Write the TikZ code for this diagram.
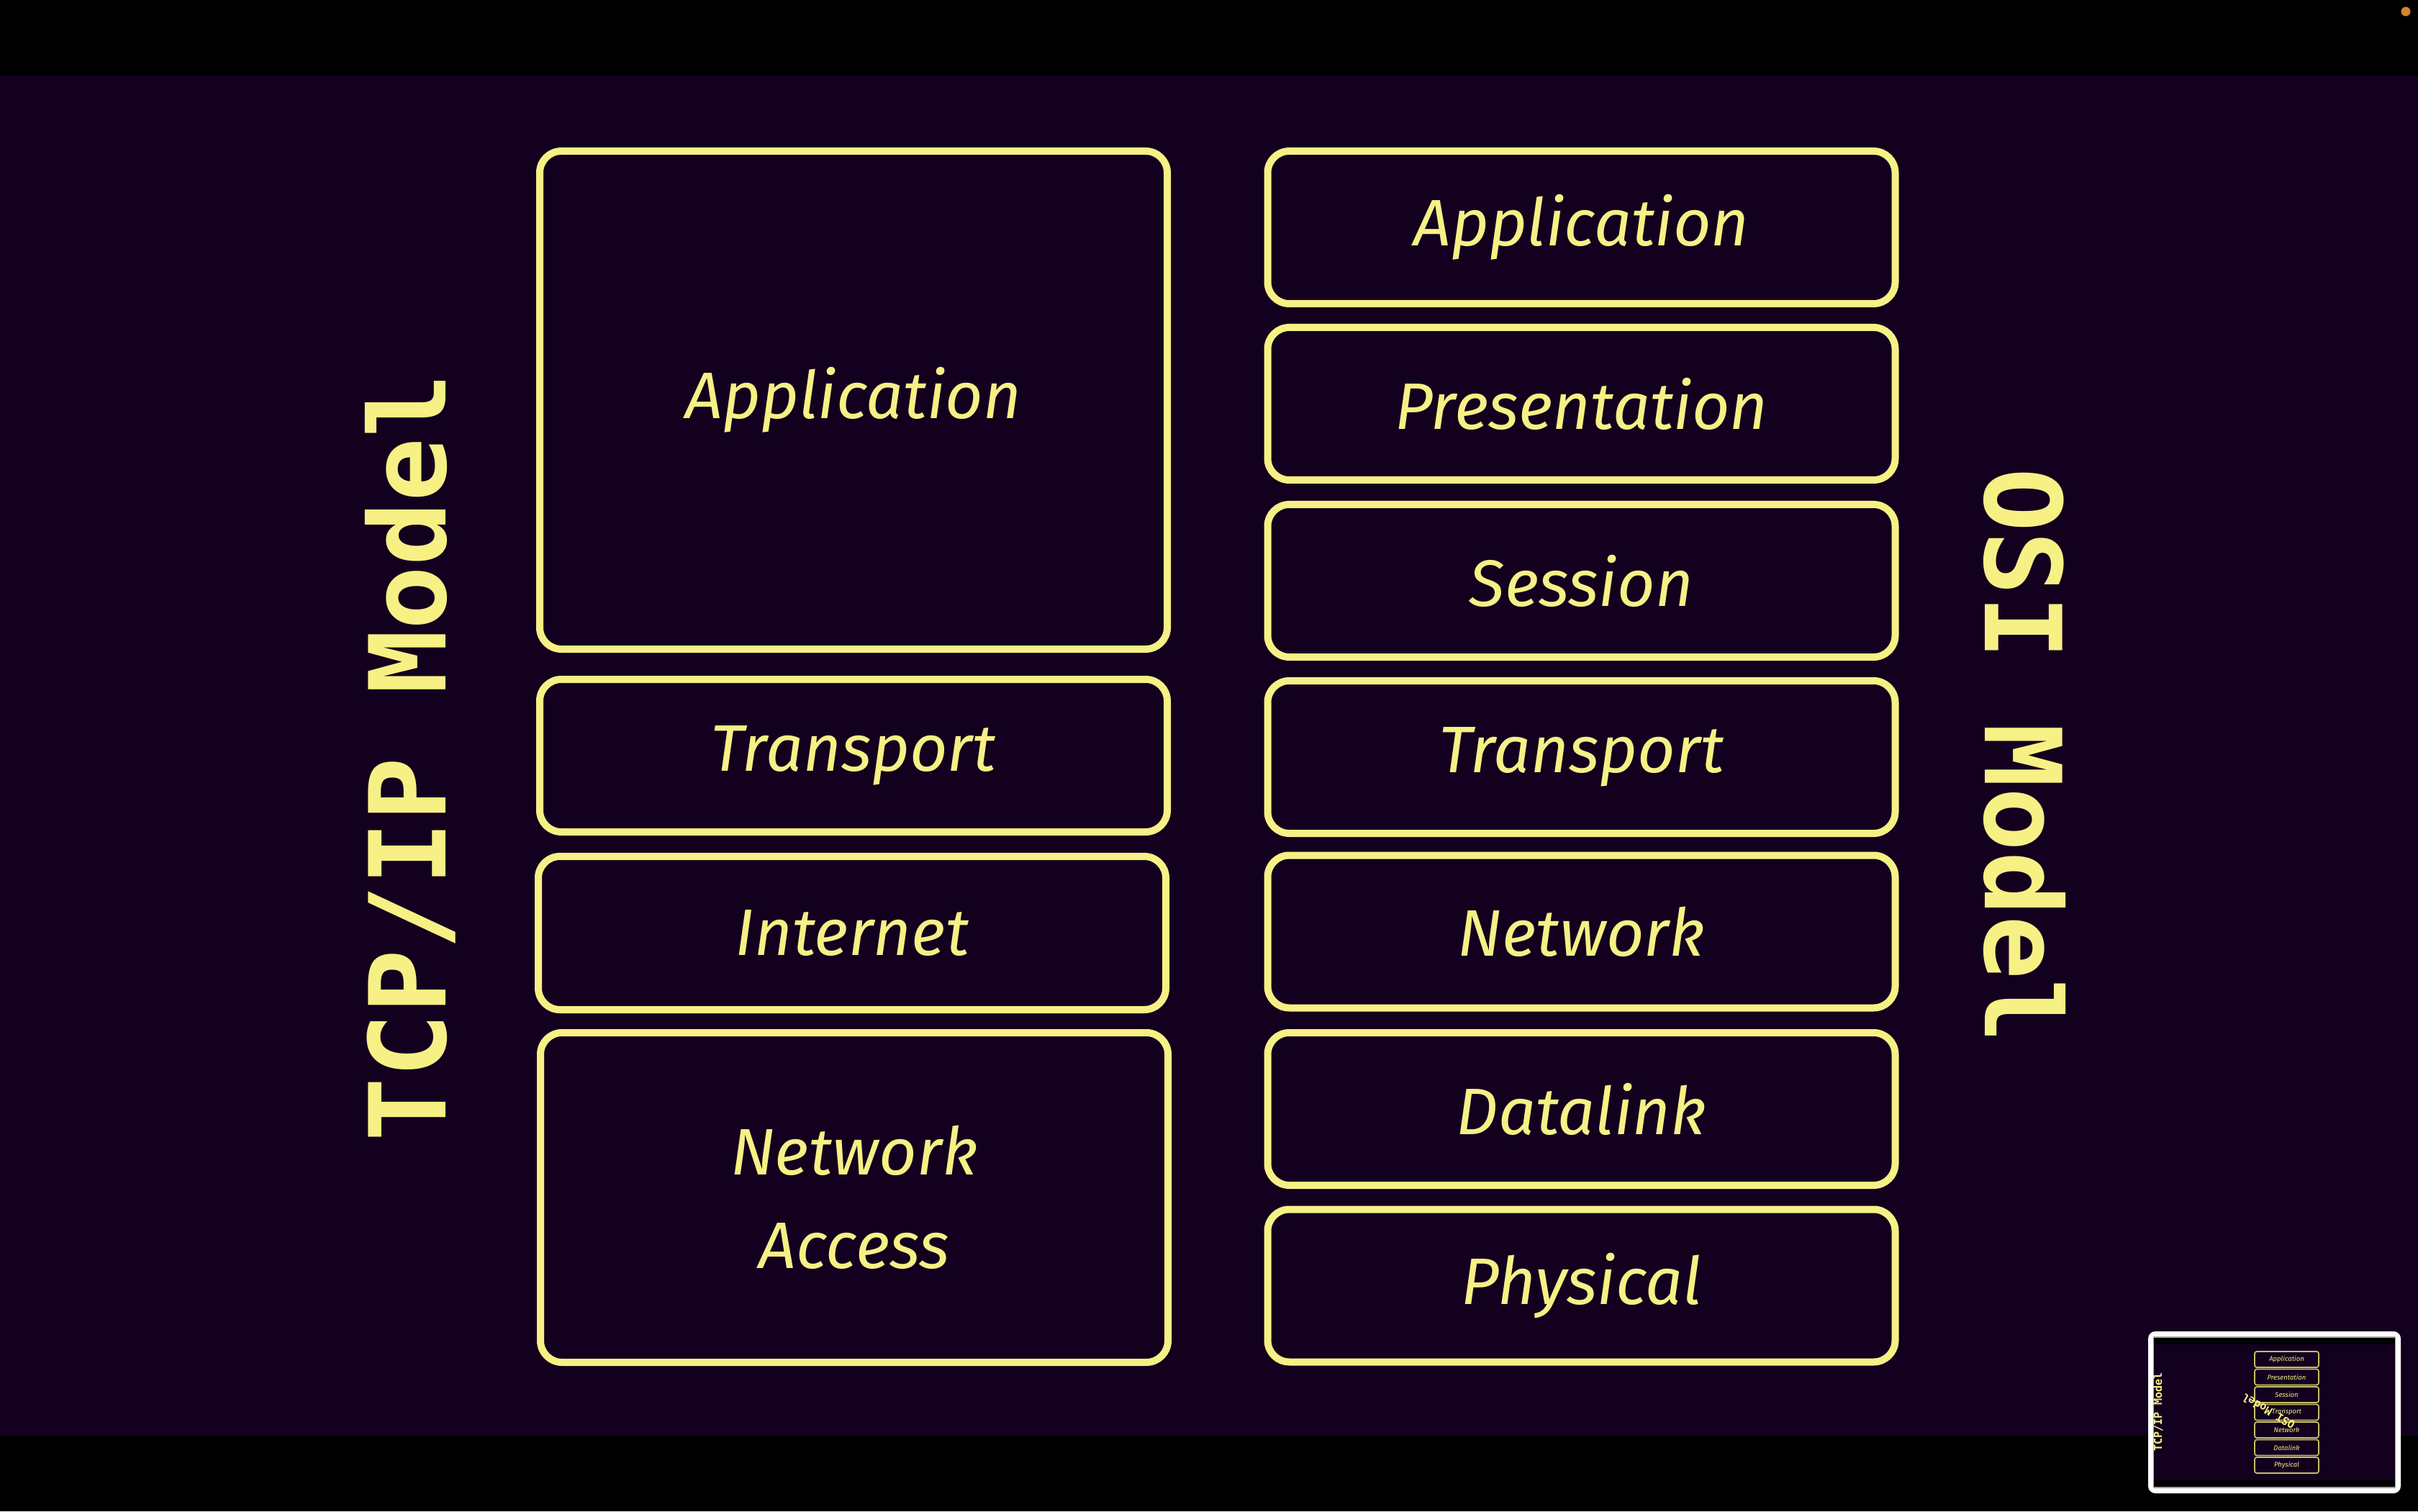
\documentclass[tikz,border=0pt]{standalone}
\usepackage{fontspec}
\setmainfont{Fira Sans}
\newfontfamily\titlefont{DejaVu Sans Mono}
\definecolor{bgpurple}{RGB}{19,0,31}
\definecolor{layeryellow}{RGB}{247,240,133}
\definecolor{thumbyellow}{RGB}{200,191,100}
\definecolor{dotorange}{RGB}{208,132,52}

\begin{document}
\begin{tikzpicture}[line join=round, line cap=round,
  layer/.style={draw=layeryellow, line width=0.1cm, rounded corners=0.3cm,
    text=layeryellow, font=\itshape\fontsize{26}{37}\selectfont,
    minimum width=8.72cm, align=center, inner sep=0pt},
  title/.style={text=layeryellow, font=\titlefont\bfseries\fontsize{42}{50}\selectfont, inner sep=0pt},
  minilayer/.style={draw=thumbyellow, line width=0.5pt, rounded corners=0.03cm,
    text=layeryellow, font=\itshape\fontsize{2.7}{3}\selectfont,
    minimum width=0.89cm, minimum height=0.22cm, inner sep=0pt},
  minititle/.style={text=layeryellow, font=\titlefont\bfseries\fontsize{4.3}{5}\selectfont, inner sep=0pt}]
  \useasboundingbox (0,0) rectangle (33.6,21);

  \fill[black] (0,0) rectangle (33.6,21);
  \fill[bgpurple] (0,1.05) rectangle (33.6,19.95);
  \fill[dotorange] (33.43,20.84) circle (0.065);

  \node[title, rotate=90] (tcpTitle) at (5.70,10.47) {TCP/IP Model};
  \node[title, rotate=-90] (osiTitle) at (28.13,10.50) {OSI Model};

  \node[layer, minimum height=6.92cm] (tcpApp) at (11.86,15.44) {Application};
  \node[layer, minimum height=2.12cm] (tcpTrans) at (11.86,10.50) {Transport};
  \node[layer, minimum height=2.13cm] (tcpInt) at (11.84,8.035) {Internet};
  \node[layer, minimum height=4.58cm] (tcpNet) at (11.87,4.36) {Network\\Access};

  \node[layer, minimum height=2.12cm] (osiApp) at (21.975,17.84) {Application};
  \node[layer, minimum height=2.12cm] (osiPres) at (21.975,15.39) {Presentation};
  \node[layer, minimum height=2.12cm] (osiSess) at (21.975,12.93) {Session};
  \node[layer, minimum height=2.12cm] (osiTrans) at (21.975,10.48) {Transport};
  \node[layer, minimum height=2.12cm] (osiNet) at (21.975,8.055) {Network};
  \node[layer, minimum height=2.12cm] (osiData) at (21.975,5.59) {Datalink};
  \node[layer, minimum height=2.12cm] (osiPhys) at (21.975,3.135) {Physical};

  \fill[white, rounded corners=0.1cm] (29.85,0.25) rectangle (33.36,2.50);
  \fill[black] (29.92,0.33) rectangle (33.28,2.42);
  \fill[bgpurple] (29.92,0.43) rectangle (33.28,2.32);
  \draw[gray!70, line width=0.3pt] (29.92,0.33) rectangle (33.28,2.42);

  \node[minititle, rotate=90] (thumbTcp) at (29.99,1.38) {TCP/IP Model};
  \node[minilayer] (thumbApp) at (31.775,2.11) {Application};
  \node[minilayer] (thumbPres) at (31.775,1.865) {Presentation};
  \node[minilayer] (thumbSess) at (31.775,1.62) {Session};
  \node[minilayer] (thumbTrans) at (31.775,1.375) {Transport};
  \node[minilayer] (thumbNet) at (31.775,1.13) {Network};
  \node[minilayer] (thumbData) at (31.775,0.885) {Datalink};
  \node[minilayer] (thumbPhys) at (31.775,0.64) {Physical};
  \node[minititle, rotate=150] (thumbOsi) at (31.52,1.39) {OSI Model};
\end{tikzpicture}
\end{document}
